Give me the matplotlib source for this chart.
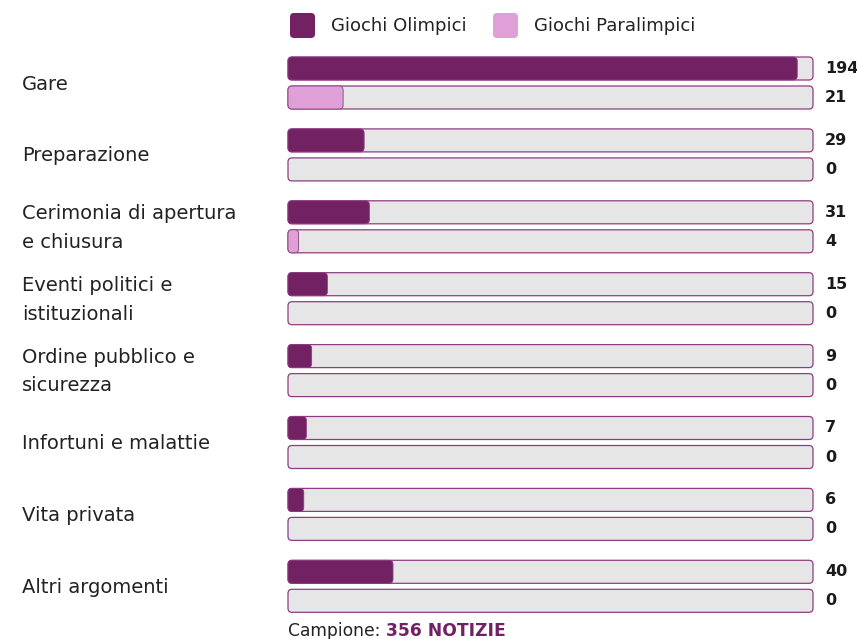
import matplotlib
matplotlib.use("Agg")
import matplotlib.pyplot as plt
from matplotlib.patches import FancyBboxPatch
from matplotlib.transforms import blended_transform_factory

plt.rcParams['font.family'] = ['DejaVu Sans']

# data
categories = ["Gare", "Preparazione", "Cerimonia di apertura\ne chiusura",
              "Eventi politici e\nistituzionali", "Ordine pubblico e\nsicurezza",
              "Infortuni e malattie", "Vita privata", "Altri argomenti"]
olimpici = [194, 29, 31, 15, 9, 7, 6, 40]
paralimpici = [21, 0, 4, 0, 0, 0, 0, 0]
series_names = ["Giochi Olimpici", "Giochi Paralimpici"]
x_max = 200
campione = 356

c_oli = "#722262"
c_para = "#dea0d6"
c_bg = "#e6e6e6"
c_edge = "#8e3d82"
c_text = "#222222"

W, H = 857, 639
fig = plt.figure(figsize=(W / 100, H / 100), dpi=100)
ax = fig.add_axes([288 / W, 0, (813 - 288) / W, 1])
ax.set_xlim(0, x_max)
ax.set_ylim(H, 0)  # y in pixels from top
ax.axis("off")

upx = x_max / (813 - 288)  # x data units per pixel
aspect = 1 / upx
bar_h = 23
rad = 4 * upx


def rbar(x0, y0, w, h, color, edge=None, lw=0.0, z=2):
    p = FancyBboxPatch((x0, y0), w, h,
                       boxstyle=f"round,pad=0,rounding_size={rad}",
                       mutation_aspect=aspect, facecolor=color,
                       edgecolor=edge if edge else color, linewidth=lw,
                       zorder=z, clip_on=False)
    ax.add_patch(p)


fig_x = blended_transform_factory(fig.transFigure, ax.transData)
for i, cat in enumerate(categories):
    gc = 83 + 71.9 * i
    for v, col, dy in [(olimpici[i], c_oli, -14.5), (paralimpici[i], c_para, 14.5)]:
        yc = gc + dy
        rbar(0, yc - bar_h / 2, x_max, bar_h, c_bg, c_edge, 0.9, 1)
        if v > 0:
            rbar(0, yc - bar_h / 2, max(v, 2 * rad + 1), bar_h, col, c_edge, 0.6, 2)
        ax.text(x_max + 12 * upx, yc, str(v), fontsize=11.5, fontweight="bold",
                color="#1a1a1a", va="center", ha="left")
    ax.text(22 / W, gc + 1, cat, transform=fig_x, fontsize=14, color=c_text,
            va="center", ha="left", linespacing=1.65)

# legend
for name, col, lx in [(series_names[0], c_oli, 290), (series_names[1], c_para, 493)]:
    x0 = (lx - 288) * upx
    rbar(x0, 13, 25 * upx, 25, col, None, 0, 3)
    ax.text(x0 + 41 * upx, 26, name, fontsize=13, color=c_text,
            va="center", ha="left")

# sample note
t = ax.text(0, 636, "Campione: ", fontsize=12.3, color=c_text, va="baseline", ha="left")
ax.annotate(f"{campione} NOTIZIE", xy=(1, 0), xycoords=t, fontsize=12.3,
            fontweight="bold", color=c_oli, va="bottom", ha="left")

fig.savefig("out.png", dpi=100, facecolor="white")
